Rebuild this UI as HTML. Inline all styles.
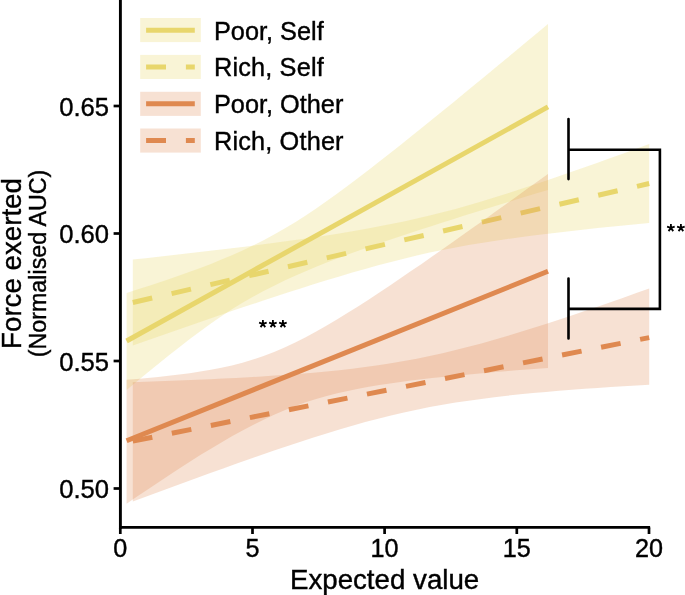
<!DOCTYPE html>
<html><head><meta charset="utf-8"><style>
html,body{margin:0;padding:0;background:#fff;}
svg{display:block;will-change:transform;font-family:"Liberation Sans",sans-serif;}
text{stroke:#000;stroke-width:0.4px;fill:#000;}
</style></head><body>
<svg width="685" height="595" viewBox="0 0 685 595">
<rect width="685" height="595" fill="#fff"/>
<path d="M126.6,293.0 L137.1,289.6 L147.7,286.2 L158.2,282.7 L168.7,279.2 L179.3,275.6 L189.8,271.8 L200.3,267.9 L210.9,263.9 L221.4,259.6 L231.9,255.2 L242.5,250.5 L253.0,245.5 L263.6,240.2 L274.1,234.6 L284.6,228.6 L295.2,222.2 L305.7,215.4 L316.2,208.4 L326.8,201.1 L337.3,193.5 L347.8,185.8 L358.4,177.8 L368.9,169.8 L379.4,161.6 L390.0,153.3 L400.5,145.0 L411.0,136.6 L421.6,128.1 L432.1,119.6 L442.6,111.0 L453.2,102.4 L463.7,93.8 L474.3,85.1 L484.8,76.5 L495.3,67.8 L505.9,59.1 L516.4,50.3 L526.9,41.6 L537.5,32.8 L548.0,24.1 L548.0,189.9 L537.5,193.1 L526.9,196.3 L516.4,199.6 L505.9,202.8 L495.3,206.0 L484.8,209.3 L474.3,212.5 L463.7,215.8 L453.2,219.2 L442.6,222.5 L432.1,225.9 L421.6,229.3 L411.0,232.7 L400.5,236.2 L390.0,239.7 L379.4,243.3 L368.9,247.0 L358.4,250.7 L347.8,254.5 L337.3,258.5 L326.8,262.6 L316.2,266.8 L305.7,271.2 L295.2,275.8 L284.6,280.6 L274.1,285.7 L263.6,291.1 L253.0,296.8 L242.5,302.8 L231.9,309.3 L221.4,316.2 L210.9,323.5 L200.3,331.2 L189.8,339.1 L179.3,347.2 L168.7,355.5 L158.2,364.0 L147.7,372.5 L137.1,381.2 L126.6,390.0Z" fill="#E8D66C" fill-opacity="0.28"/>
<path d="M132.8,259.6 L145.7,258.2 L158.6,256.7 L171.5,255.3 L184.4,253.8 L197.4,252.3 L210.3,250.8 L223.2,249.3 L236.1,247.8 L249.0,246.2 L261.9,244.5 L274.8,242.8 L287.7,241.1 L300.6,239.3 L313.5,237.4 L326.5,235.5 L339.4,233.4 L352.3,231.3 L365.2,229.0 L378.1,226.6 L391.0,224.1 L403.9,221.4 L416.8,218.5 L429.7,215.5 L442.6,212.3 L455.6,208.9 L468.5,205.2 L481.4,201.5 L494.3,197.5 L507.2,193.5 L520.1,189.3 L533.0,185.0 L545.9,180.7 L558.8,176.3 L571.7,171.8 L584.7,167.3 L597.6,162.7 L610.5,158.1 L623.4,153.4 L636.3,148.8 L649.2,144.1 L649.2,222.9 L636.3,224.2 L623.4,225.5 L610.5,226.8 L597.6,228.1 L584.7,229.5 L571.7,230.9 L558.8,232.4 L545.9,233.9 L533.0,235.5 L520.1,237.2 L507.2,239.0 L494.3,240.9 L481.4,242.9 L468.5,245.1 L455.6,247.4 L442.6,249.9 L429.7,252.6 L416.8,255.6 L403.9,258.7 L391.0,261.9 L378.1,265.3 L365.2,268.9 L352.3,272.6 L339.4,276.4 L326.5,280.3 L313.5,284.3 L300.6,288.4 L287.7,292.5 L274.8,296.7 L261.9,301.0 L249.0,305.3 L236.1,309.6 L223.2,314.0 L210.3,318.5 L197.4,322.9 L184.4,327.4 L171.5,331.9 L158.6,336.4 L145.7,340.9 L132.8,345.4Z" fill="#E8D66C" fill-opacity="0.28"/>
<line x1="126.6" y1="341.0" x2="548" y2="106.9" stroke="#E8D66C" stroke-width="5"/>
<line x1="132.8" y1="302.5" x2="649.2" y2="183.5" stroke="#E8D66C" stroke-width="5" stroke-dasharray="19.9 19.9"/>
<path d="M126.6,379.8 L137.1,378.9 L147.7,378.0 L158.2,376.9 L168.7,375.8 L179.3,374.6 L189.8,373.2 L200.3,371.6 L210.9,369.8 L221.4,367.8 L231.9,365.5 L242.5,362.8 L253.0,359.6 L263.6,356.0 L274.1,352.0 L284.6,347.4 L295.2,342.5 L305.7,337.2 L316.2,331.5 L326.8,325.5 L337.3,319.3 L347.8,312.8 L358.4,306.2 L368.9,299.4 L379.4,292.5 L390.0,285.4 L400.5,278.3 L411.0,271.1 L421.6,263.9 L432.1,256.5 L442.6,249.2 L453.2,241.8 L463.7,234.3 L474.3,226.8 L484.8,219.4 L495.3,211.8 L505.9,204.3 L516.4,196.7 L526.9,189.1 L537.5,181.6 L548.0,173.9 L548.0,367.9 L537.5,368.7 L526.9,369.5 L516.4,370.3 L505.9,371.2 L495.3,372.1 L484.8,373.0 L474.3,373.9 L463.7,374.9 L453.2,375.9 L442.6,377.0 L432.1,378.1 L421.6,379.3 L411.0,380.6 L400.5,381.9 L390.0,383.4 L379.4,385.0 L368.9,386.8 L358.4,388.7 L347.8,390.9 L337.3,393.3 L326.8,396.0 L316.2,399.0 L305.7,402.3 L295.2,406.1 L284.6,410.3 L274.1,414.8 L263.6,419.7 L253.0,424.9 L242.5,430.5 L231.9,436.3 L221.4,442.4 L210.9,448.7 L200.3,455.1 L189.8,461.8 L179.3,468.5 L168.7,475.4 L158.2,482.4 L147.7,489.4 L137.1,496.6 L126.6,503.7Z" fill="#DF8950" fill-opacity="0.25"/>
<path d="M132.8,382.3 L145.7,381.8 L158.6,381.3 L171.5,380.8 L184.4,380.3 L197.4,379.8 L210.3,379.2 L223.2,378.6 L236.1,377.9 L249.0,377.2 L261.9,376.5 L274.8,375.6 L287.7,374.7 L300.6,373.8 L313.5,372.7 L326.5,371.5 L339.4,370.2 L352.3,368.7 L365.2,367.1 L378.1,365.3 L391.0,363.3 L403.9,361.1 L416.8,358.7 L429.7,356.0 L442.6,353.2 L455.6,350.1 L468.5,346.8 L481.4,343.4 L494.3,339.8 L507.2,336.0 L520.1,332.1 L533.0,328.1 L545.9,324.0 L558.8,319.7 L571.7,315.5 L584.7,311.1 L597.6,306.7 L610.5,302.2 L623.4,297.7 L636.3,293.1 L649.2,288.6 L649.2,384.8 L636.3,385.6 L623.4,386.3 L610.5,387.1 L597.6,387.9 L584.7,388.8 L571.7,389.8 L558.8,390.8 L545.9,391.9 L533.0,393.1 L520.1,394.3 L507.2,395.7 L494.3,397.2 L481.4,398.9 L468.5,400.7 L455.6,402.6 L442.6,404.8 L429.7,407.1 L416.8,409.7 L403.9,412.4 L391.0,415.4 L378.1,418.7 L365.2,422.1 L352.3,425.7 L339.4,429.5 L326.5,433.4 L313.5,437.5 L300.6,441.7 L287.7,445.9 L274.8,450.3 L261.9,454.7 L249.0,459.2 L236.1,463.8 L223.2,468.4 L210.3,473.0 L197.4,477.7 L184.4,482.4 L171.5,487.2 L158.6,491.9 L145.7,496.7 L132.8,501.5Z" fill="#DF8950" fill-opacity="0.25"/>
<line x1="126.6" y1="440.8" x2="548" y2="271.3" stroke="#DF8950" stroke-width="5"/>
<line x1="132.8" y1="441.1" x2="649.2" y2="337.6" stroke="#DF8950" stroke-width="5" stroke-dasharray="19.9 19.9"/>
<rect x="140.2" y="18" width="60.6" height="24.1" fill="#E8D66C" fill-opacity="0.28"/>
<line x1="146.1" y1="30.20" x2="194.8" y2="30.20" stroke="#E8D66C" stroke-width="5"/>
<text x="214" y="39.5" font-size="25.3">Poor, Self</text>
<rect x="140.2" y="54.9" width="60.6" height="24.1" fill="#E8D66C" fill-opacity="0.28"/>
<line x1="146.1" y1="67.10" x2="194.8" y2="67.10" stroke="#E8D66C" stroke-width="5" stroke-dasharray="19.9 19.9"/>
<text x="214" y="76.4" font-size="25.3" letter-spacing="0.16">Rich, Self</text>
<rect x="140.2" y="91.8" width="60.6" height="24.1" fill="#DF8950" fill-opacity="0.25"/>
<line x1="146.1" y1="103.70" x2="194.8" y2="103.70" stroke="#DF8950" stroke-width="5"/>
<text x="214" y="113.3" font-size="25.3">Poor, Other</text>
<rect x="140.2" y="128.5" width="60.6" height="24.1" fill="#DF8950" fill-opacity="0.25"/>
<line x1="146.1" y1="140.40" x2="194.8" y2="140.40" stroke="#DF8950" stroke-width="5" stroke-dasharray="19.9 19.9"/>
<text x="214" y="150.0" font-size="25.3" letter-spacing="0.16">Rich, Other</text>
<line x1="120.4" y1="0" x2="120.4" y2="528.8" stroke="#000" stroke-width="2.9"/>
<line x1="119" y1="527.4" x2="650.1" y2="527.4" stroke="#000" stroke-width="2.8"/>
<line x1="120.3" y1="527.4" x2="120.3" y2="534" stroke="#000" stroke-width="2.7"/>
<text x="120.3" y="557.3" font-size="25.2" text-anchor="middle">0</text>
<line x1="252.5" y1="527.4" x2="252.5" y2="534" stroke="#000" stroke-width="2.7"/>
<text x="252.5" y="557.3" font-size="25.2" text-anchor="middle">5</text>
<line x1="384.6" y1="527.4" x2="384.6" y2="534" stroke="#000" stroke-width="2.7"/>
<text x="384.6" y="557.3" font-size="25.2" text-anchor="middle">10</text>
<line x1="516.8" y1="527.4" x2="516.8" y2="534" stroke="#000" stroke-width="2.7"/>
<text x="516.8" y="557.3" font-size="25.2" text-anchor="middle">15</text>
<line x1="649.0" y1="527.4" x2="649.0" y2="534" stroke="#000" stroke-width="2.7"/>
<text x="649.0" y="557.3" font-size="25.2" text-anchor="middle">20</text>
<line x1="113.6" y1="488.5" x2="120.3" y2="488.5" stroke="#000" stroke-width="2.7"/>
<text x="109" y="498.3" font-size="25.6" text-anchor="end">0.50</text>
<line x1="113.6" y1="361.0" x2="120.3" y2="361.0" stroke="#000" stroke-width="2.7"/>
<text x="109" y="370.8" font-size="25.6" text-anchor="end">0.55</text>
<line x1="113.6" y1="233.5" x2="120.3" y2="233.5" stroke="#000" stroke-width="2.7"/>
<text x="109" y="243.3" font-size="25.6" text-anchor="end">0.60</text>
<line x1="113.6" y1="106.0" x2="120.3" y2="106.0" stroke="#000" stroke-width="2.7"/>
<text x="109" y="115.8" font-size="25.6" text-anchor="end">0.65</text>
<text x="384.6" y="589" font-size="27.7" text-anchor="middle">Expected value</text>
<text transform="translate(21.2,263.5) rotate(-90)" font-size="27.7" text-anchor="middle">Force exerted</text>
<text transform="translate(46.2,263.5) rotate(-90)" font-size="23.3" text-anchor="middle">(Normalised AUC)</text>
<path d="M568.5,119V179.1 M568.5,149.8H659.9V308.9H568.5 M568.5,278.5V338.4" fill="none" stroke="#000" stroke-width="2.6" stroke-linecap="round" stroke-linejoin="miter"/>
<path d="M670.90,227.90L670.90,223.90M670.90,227.90L674.70,226.66M670.90,227.90L673.25,231.14M670.90,227.90L668.55,231.14M670.90,227.90L667.10,226.66" stroke="#000" stroke-width="1.8" fill="none"/>
<path d="M680.90,227.90L680.90,223.90M680.90,227.90L684.70,226.66M680.90,227.90L683.25,231.14M680.90,227.90L678.55,231.14M680.90,227.90L677.10,226.66" stroke="#000" stroke-width="1.8" fill="none"/>
<path d="M262.90,323.90L262.90,319.90M262.90,323.90L266.70,322.66M262.90,323.90L265.25,327.14M262.90,323.90L260.55,327.14M262.90,323.90L259.10,322.66" stroke="#000" stroke-width="1.8" fill="none"/>
<path d="M272.90,323.90L272.90,319.90M272.90,323.90L276.70,322.66M272.90,323.90L275.25,327.14M272.90,323.90L270.55,327.14M272.90,323.90L269.10,322.66" stroke="#000" stroke-width="1.8" fill="none"/>
<path d="M282.90,323.90L282.90,319.90M282.90,323.90L286.70,322.66M282.90,323.90L285.25,327.14M282.90,323.90L280.55,327.14M282.90,323.90L279.10,322.66" stroke="#000" stroke-width="1.8" fill="none"/>
</svg>
</body></html>
